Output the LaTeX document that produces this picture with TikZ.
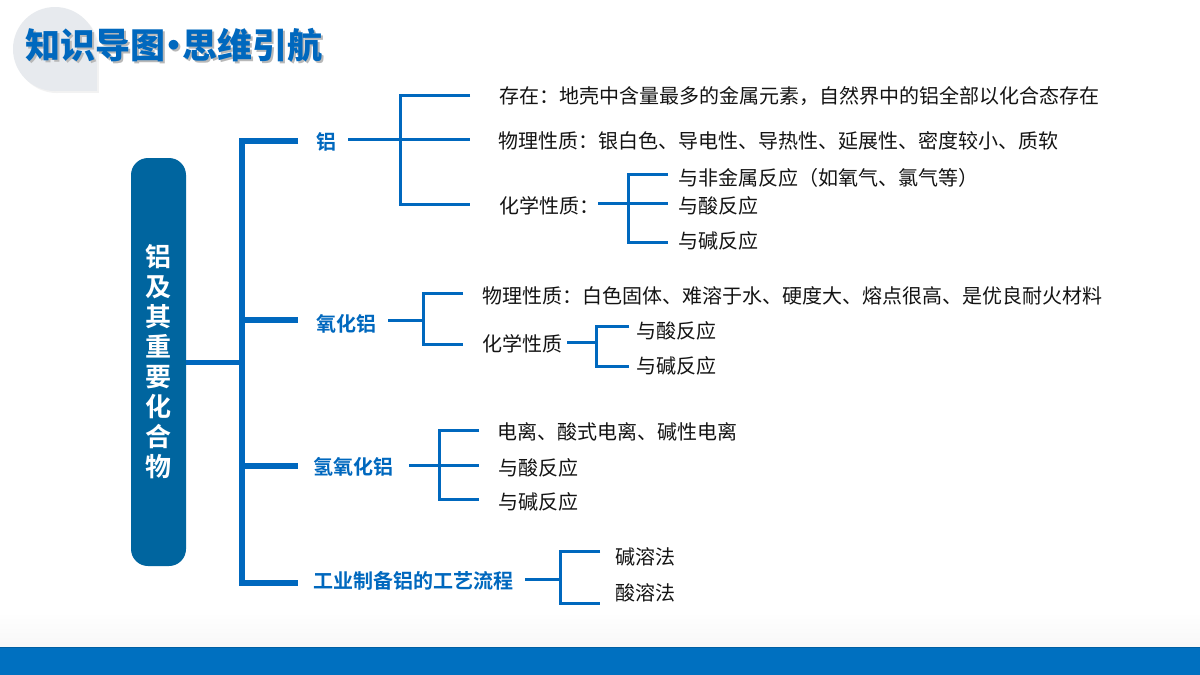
\documentclass[tikz,border=0pt]{standalone}
\usepackage{fontspec}
\setmainfont{Noto Sans CJK SC}
\newfontfamily\boldcjk{Noto Sans CJK SC Bold}
\newfontfamily\blackcjk{Noto Sans CJK SC Black}
\definecolor{linkblue}{HTML}{0068BE}
\definecolor{rootblue}{HTML}{00659F}
\definecolor{footblue}{HTML}{0070C0}
\definecolor{tearg}{HTML}{E7EAEE}
\newcommand{\titletext}{知识导图\hspace{-.25em}·\hspace{-.25em}思维引航}
\tikzset{
  leaf/.style={anchor=west,inner sep=0pt,font=\fontsize{20}{24}\selectfont,text=black!92},
  topic/.style={anchor=west,inner sep=0pt,font=\boldcjk\fontsize{20}{24}\selectfont,text=linkblue},
  trunk/.style={draw=linkblue,line width=6pt},
  twig/.style={draw=linkblue,line width=3pt},
  titlefont/.style={anchor=west,inner sep=0pt,font=\blackcjk\fontsize{35}{40}\selectfont},
}
\begin{document}
\begin{tikzpicture}[x=1pt,y=-1pt]
\useasboundingbox (0,0) rectangle (1200,675);
% backdrop
\fill[white] (0,0) rectangle (1200,675);
\shade[top color=white,bottom color=black!3!white] (0,612) rectangle (1200,647);
\fill[footblue] (0,647) rectangle (1200,675);
\fill[footblue!85!black] (0,647) rectangle (1200,648);
% title
\fill[black!5] (57,51) circle[radius=42];
\fill[black!5] (57,51) rectangle (99,93);
\fill[tearg] (55,49) circle[radius=42];
\fill[tearg] (55,49) rectangle (97,91);
\node[titlefont,text=black!28] at (27,47) {\titletext};
\node (title) [titlefont,text=linkblue] at (25,45) {\titletext};
% root
\node (root) [draw=none,fill=rootblue,rounded corners=17pt,minimum width=55pt,minimum height=408pt,inner sep=0pt,
  align=center,text=white,font=\boldcjk\fontsize{26}{30}\selectfont] at (158.5,362)
  {铝\\及\\其\\重\\要\\化\\合\\物};
% topics
\node (al) [topic] at (316,142) {铝};
\node (oxide) [topic] at (316,324) {氧化铝};
\node (hydrox) [topic] at (313,467) {氢氧化铝};
\node (ind) [topic] at (313,581) {工业制备铝的工艺流程};
% leaves
\node (a1) [leaf] at (499,96) {存在：地壳中含量最多的金属元素，自然界中的铝全部以化合态存在};
\node (a2) [leaf] at (498,141) {物理性质：银白色、导电性、导热性、延展性、密度较小、质软};
\node (a3) [leaf] at (499,206) {化学性质：};
\node (a31) [leaf] at (678,178) {与非金属反应（如氧气、氯气等）};
\node (a32) [leaf] at (678,206) {与酸反应};
\node (a33) [leaf] at (678,241) {与碱反应};
\node (o1) [leaf] at (482,296) {物理性质：白色固体、难溶于水、硬度大、熔点很高、是优良耐火材料};
\node (o2) [leaf] at (482,344) {化学性质};
\node (o21) [leaf] at (636,331) {与酸反应};
\node (o22) [leaf] at (636,366) {与碱反应};
\node (h1) [leaf] at (497,432) {电离、酸式电离、碱性电离};
\node (h2) [leaf] at (498,468) {与酸反应};
\node (h3) [leaf] at (498,502) {与碱反应};
\node (i1) [leaf] at (615,557) {碱溶法};
\node (i2) [leaf] at (615,593) {酸溶法};
% connector ends
\coordinate (trunkTop) at (242,141);
\coordinate (trunkBot) at (242,583);
\coordinate (trunkMid) at (242,362);
\coordinate (alFrom) at (348,139);
\coordinate (oxFrom) at (388,320);
\coordinate (hyFrom) at (409,465);
\coordinate (inFrom) at (525,579);
\coordinate (a3From) at (598,203);
\coordinate (o2From) at (567,342);
% trunk
\draw[draw=linkblue,line width=5pt] (root.east) -- (trunkMid);
\draw[trunk,line join=miter] (298,141) -- (trunkTop) -- (trunkBot) -- (298,583);
\draw[trunk] (242,320) -- (298,320);
\draw[trunk] (242,466) -- (298,466);
% aluminium
\draw[twig] (alFrom) -- (470,139);
\draw[twig] (470,95) -- (400,95) -- (400,204) -- (470,204);
\draw[twig] (a3From) -- (668,203);
\draw[twig] (668,174) -- (628,174) -- (628,242) -- (668,242);
% oxide
\draw[twig] (oxFrom) -- (423,320);
\draw[twig] (463,293) -- (423,293) -- (423,344) -- (463,344);
\draw[twig] (o2From) -- (596,342);
\draw[twig] (629,326) -- (596,326) -- (596,366) -- (629,366);
% hydroxide
\draw[twig] (hyFrom) -- (479,465);
\draw[twig] (479,430) -- (439,430) -- (439,499) -- (479,499);
% industry
\draw[twig] (inFrom) -- (560,579);
\draw[twig] (600,551) -- (560,551) -- (560,603) -- (600,603);
\end{tikzpicture}
\end{document}
